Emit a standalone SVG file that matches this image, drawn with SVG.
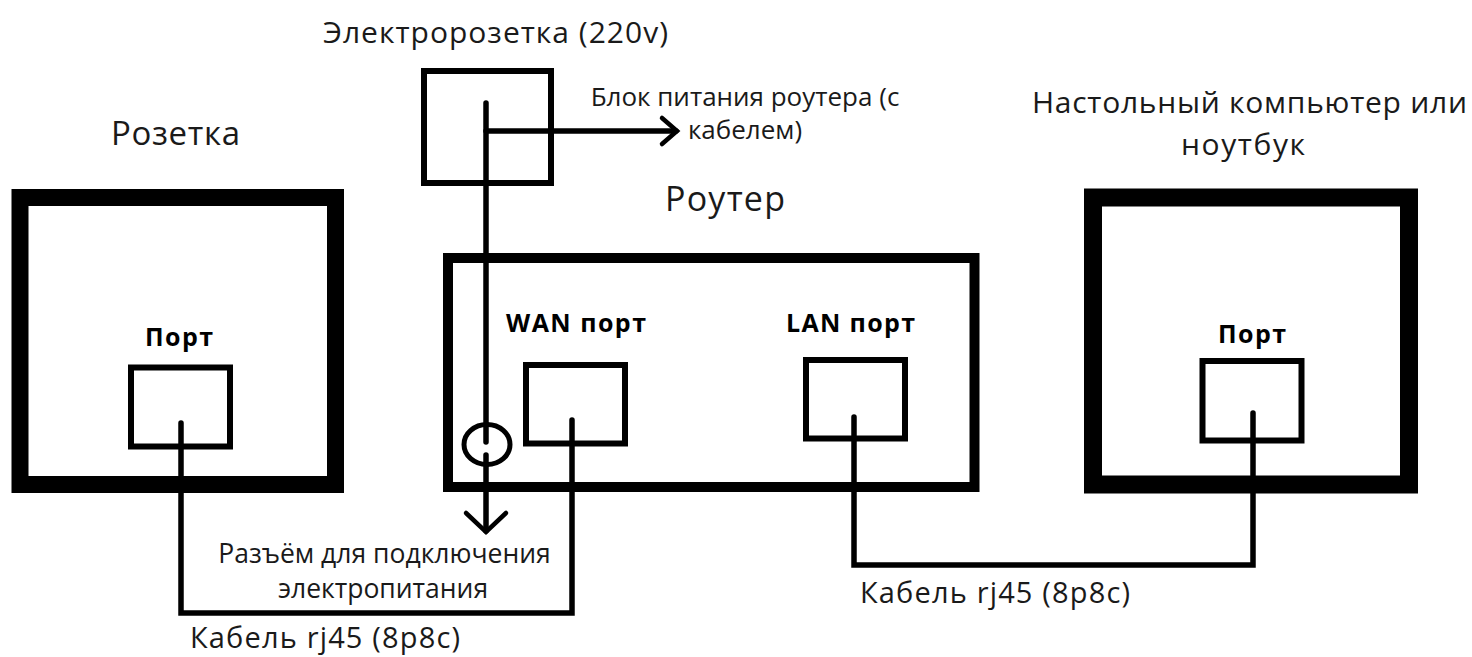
<svg xmlns="http://www.w3.org/2000/svg" width="1472" height="657" viewBox="0 0 1472 657">
<defs>
<style>
text{font-family:"Open Sans","Noto Sans","DejaVu Sans",sans-serif;fill:#1a1a1a}
.big{font-size:30px}
.mid{font-size:26.5px}
.cab{font-size:29px}
.b{font-size:25px;font-weight:700;fill:#000}
.thick{fill:none;stroke:#000;stroke-width:17}
.router{fill:none;stroke:#000;stroke-width:10}
.port{fill:none;stroke:#000;stroke-width:6}
.cable{fill:none;stroke:#000;stroke-width:5.5;stroke-linecap:round;stroke-linejoin:miter}
.head{fill:none;stroke:#000;stroke-width:4.5;stroke-linecap:round;stroke-linejoin:miter}
</style>
</defs>
<rect width="1472" height="657" fill="#fff"/>
<g id="outlet">
<rect class="port" x="424" y="71" width="127" height="112"/>
<text x="323" y="43" style="font-size:30px" textLength="345">Электророзетка (220v)</text>
</g>
<g id="wall-socket">
<rect class="thick" x="20" y="197.5" width="315.5" height="287"/>
<text x="111" y="145" style="font-size:33px" textLength="129">Розетка</text>
<rect class="port" x="131" y="367.5" width="99" height="79"/>
<text class="b" x="145" y="346" textLength="68">Порт</text>
</g>
<g id="router">
<rect class="router" x="448" y="258" width="526.5" height="229"/>
<text x="665" y="211" style="font-size:34px" textLength="120">Роутер</text>
<rect class="port" x="526" y="365" width="99" height="78.5"/>
<text class="b" x="506" y="332" textLength="140">WAN порт</text>
<rect class="port" x="806" y="360" width="99" height="78.5"/>
<text class="b" x="786" y="332" textLength="129">LAN порт</text>
<ellipse class="port" cx="487" cy="444.5" rx="23" ry="20" style="stroke-width:5"/>
</g>
<g id="computer">
<rect class="thick" x="1093" y="197.5" width="316" height="287" style="stroke-width:18"/>
<text class="big"><tspan x="1032" y="113" textLength="435">Настольный компьютер или</tspan><tspan x="1181" y="154.5" textLength="124">ноутбук</tspan></text>
<rect class="port" x="1202.5" y="361" width="99" height="79.5"/>
<text class="b" x="1218" y="343" textLength="68">Порт</text>
</g>
<g id="connectors">
<path class="cable" d="M486 103 V442"/>
<path class="cable" d="M486 131 H676"/>
<path class="head" d="M662 118 L677 131 L662 144"/>
<path class="cable" d="M486 455 V531"/>
<path class="head" d="M466 513 L486 532 L506 513"/>
<path class="cable" d="M181 423 V613 H572 V420"/>
<path class="cable" d="M854 417 V565 H1253 V413"/>
</g>
<g id="labels">
<text style="font-size:26px" text-anchor="middle"><tspan x="745" y="106">Блок питания роутера (с</tspan><tspan x="745" y="139">кабелем)</tspan></text>
<text class="mid" text-anchor="middle"><tspan x="384.5" y="563">Разъём для подключения</tspan><tspan x="383" y="598">электропитания</tspan></text>
<text class="cab" x="190" y="648" textLength="270">Кабель rj45 (8p8c)</text>
<text class="cab" x="860" y="603" textLength="270">Кабель rj45 (8p8c)</text>
</g>
</svg>
